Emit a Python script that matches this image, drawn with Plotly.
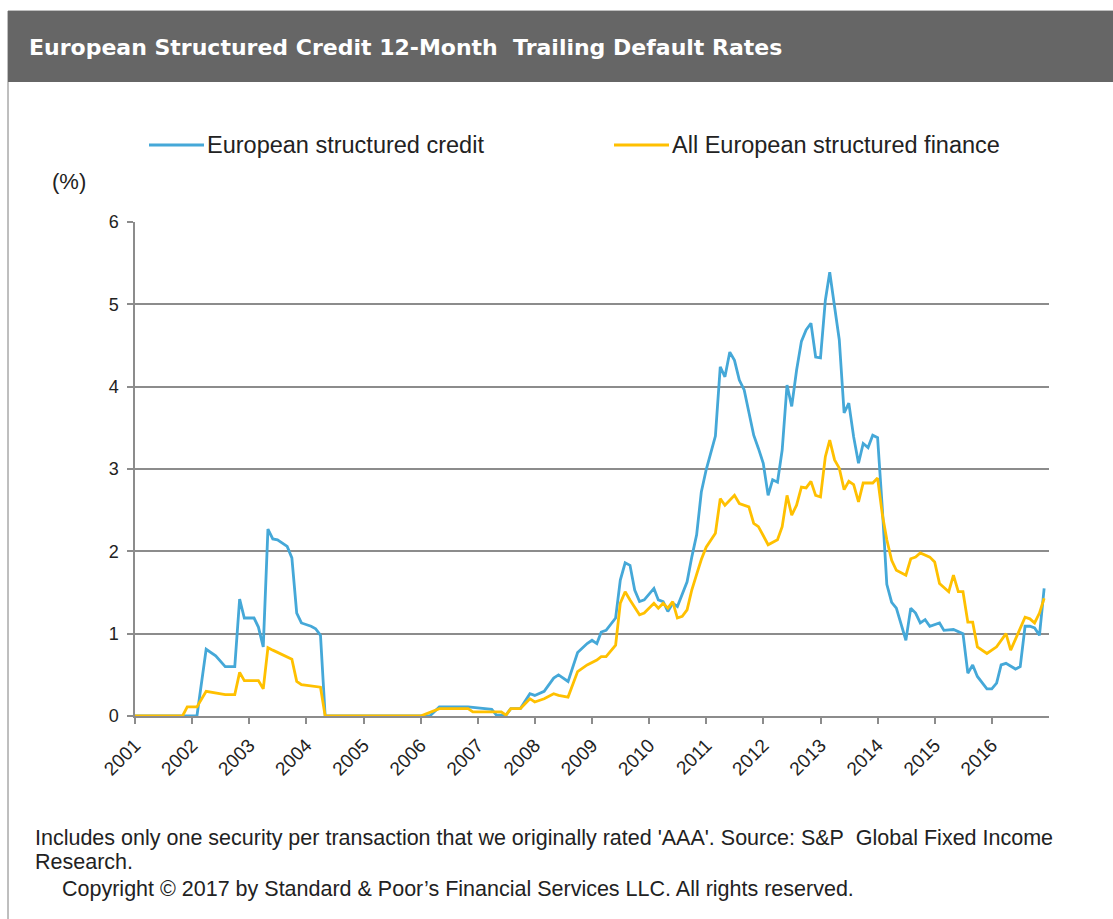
import plotly.graph_objects as go

# ---------------- data ----------------
credit_dates = ["2001-01","2002-02","2002-04","2002-06","2002-08","2002-10","2002-11","2002-12","2003-02","2003-03",
    "2003-04","2003-05","2003-06","2003-07","2003-09","2003-10","2003-11","2003-12","2004-02","2004-03","2004-04","2004-05",
    "2006-03","2006-05","2006-11","2007-04","2007-05","2007-07","2007-08","2007-10","2007-12","2008-01","2008-03","2008-05",
    "2008-06","2008-08","2008-10","2008-12","2009-01","2009-02","2009-03","2009-04","2009-06","2009-07","2009-08","2009-09",
    "2009-10","2009-11","2009-12","2010-02","2010-03","2010-04","2010-05","2010-06","2010-07","2010-08","2010-09","2010-10",
    "2010-11","2010-12","2011-01","2011-03","2011-04","2011-05","2011-06","2011-07","2011-08","2011-09","2011-11","2011-12",
    "2012-01","2012-02","2012-03","2012-04","2012-05","2012-06","2012-07","2012-08","2012-09","2012-10","2012-11","2012-12",
    "2013-01","2013-02","2013-03","2013-04","2013-05","2013-06","2013-07","2013-08","2013-09","2013-10","2013-11","2013-12",
    "2014-01","2014-02","2014-03","2014-04","2014-05","2014-07","2014-08","2014-09","2014-10","2014-11","2014-12","2015-02",
    "2015-03","2015-05","2015-07","2015-08","2015-09","2015-10","2015-12","2016-01","2016-02","2016-03","2016-04","2016-06",
    "2016-07","2016-08","2016-09","2016-10","2016-11","2016-12"]
credit_values = [0,0,0.81,0.73,0.6,0.6,1.42,1.19,1.19,1.08,
    0.84,2.27,2.15,2.14,2.06,1.92,1.25,1.13,1.09,1.06,0.98,0,
    0,0.11,0.11,0.08,0.01,0.01,0.09,0.09,0.27,0.25,0.3,0.46,
    0.5,0.42,0.77,0.88,0.92,0.88,1.02,1.04,1.19,1.65,1.86,1.83,
    1.53,1.39,1.41,1.55,1.41,1.39,1.27,1.37,1.33,1.49,1.63,1.93,
    2.2,2.72,2.99,3.4,4.24,4.12,4.42,4.32,4.08,3.96,3.41,3.25,
    3.07,2.68,2.87,2.84,3.23,4.02,3.76,4.2,4.55,4.69,4.77,4.36,
    4.35,5.05,5.39,4.97,4.57,3.68,3.8,3.39,3.07,3.31,3.26,3.41,
    3.38,2.5,1.6,1.38,1.31,0.92,1.31,1.25,1.13,1.17,1.09,1.13,
    1.04,1.05,1.0,0.52,0.62,0.48,0.33,0.33,0.4,0.62,0.64,0.57,
    0.6,1.09,1.09,1.07,0.98,1.55]

finance_dates = ["2001-01","2001-11","2001-12","2002-02","2002-04","2002-06","2002-08","2002-10","2002-11","2002-12",
    "2003-03","2003-04","2003-05","2003-06","2003-10","2003-11","2003-12","2004-04","2004-05",
    "2006-01","2006-03","2006-05","2006-11","2006-12","2007-06","2007-07","2007-08","2007-10","2007-12","2008-01",
    "2008-03","2008-05","2008-06","2008-08","2008-10","2008-12","2009-02","2009-03","2009-04","2009-06","2009-07",
    "2009-08","2009-09","2009-11","2009-12","2010-02","2010-03","2010-04","2010-05","2010-06","2010-07","2010-08",
    "2010-09","2010-10","2010-11","2010-12","2011-01","2011-03","2011-04","2011-05","2011-07","2011-08","2011-10",
    "2011-11","2011-12","2012-02","2012-04","2012-05","2012-06","2012-07","2012-08","2012-09","2012-10","2012-11",
    "2012-12","2013-01","2013-02","2013-03","2013-04","2013-05","2013-06","2013-07","2013-08","2013-09","2013-10",
    "2013-12","2014-01","2014-02","2014-03","2014-04","2014-05","2014-07","2014-08","2014-09","2014-10","2014-12",
    "2015-01","2015-02","2015-04","2015-05","2015-06","2015-07","2015-08","2015-09","2015-10","2015-12","2016-02",
    "2016-04","2016-05","2016-08","2016-09","2016-10","2016-11","2016-12"]
finance_values = [0,0,0.11,0.11,0.3,0.28,0.26,0.26,0.53,0.43,
    0.43,0.33,0.83,0.8,0.69,0.42,0.38,0.35,0,
    0,0.04,0.09,0.09,0.05,0.05,0.01,0.09,0.09,0.21,0.17,
    0.21,0.27,0.25,0.23,0.54,0.62,0.68,0.72,0.72,0.86,1.37,
    1.51,1.41,1.23,1.25,1.37,1.31,1.37,1.31,1.39,1.19,1.21,
    1.29,1.53,1.72,1.9,2.05,2.22,2.64,2.56,2.68,2.58,2.54,
    2.34,2.3,2.08,2.14,2.3,2.68,2.44,2.56,2.78,2.77,2.85,
    2.68,2.66,3.15,3.35,3.11,3.01,2.75,2.85,2.81,2.6,2.83,
    2.83,2.89,2.44,2.14,1.89,1.77,1.71,1.91,1.93,1.98,1.93,
    1.87,1.61,1.51,1.71,1.51,1.51,1.14,1.14,0.84,0.76,0.84,
    1.0,0.8,1.2,1.18,1.13,1.25,1.43]

year_labels = [str(y) for y in range(2001, 2017)]
series_names = ["European structured credit", "All European structured finance"]
title_text = "European Structured Credit 12-Month&nbsp; Trailing Default Rates"
note_line1 = "Includes only one security per transaction that we originally rated 'AAA'. Source: S&P&nbsp; Global Fixed Income"
note_line2 = "Research."
copyright_text = "Copyright \u00a9 2017 by Standard & Poor\u2019s Financial Services LLC. All rights reserved."

# ---------------- layout geometry (pixels) ----------------
W, H = 1113, 919
PL, PR, PT, PB = 135, 1049, 222, 716
BLUE = "#45a8d8"
GOLD = "#ffc000"
GRID = "#8c8c8c"
TXT = "#222222"
FONT = "Liberation Sans, Arial, sans-serif"
TITLE_FONT = "DejaVu Sans, Verdana, sans-serif"

def fx(px):
    return (px - PL) / (PR - PL)

def fy(py):
    return (PB - py) / (PB - PT)

fig = go.Figure()
fig.add_trace(go.Scatter(x=[d + "-01" for d in credit_dates], y=credit_values, mode="lines",
                         name=series_names[0], line=dict(color=BLUE, width=2.8), showlegend=False))
fig.add_trace(go.Scatter(x=[d + "-01" for d in finance_dates], y=finance_values, mode="lines",
                         name=series_names[1], line=dict(color=GOLD, width=2.8), showlegend=False))

shapes = [
    dict(type="rect", xref="paper", yref="paper", x0=fx(8), x1=fx(1125), y0=fy(930), y1=fy(11),
         line=dict(color="#7f7f7f", width=1), fillcolor="rgba(0,0,0,0)", layer="below"),
    dict(type="rect", xref="paper", yref="paper", x0=fx(8), x1=fx(1125), y0=fy(82), y1=fy(11),
         line=dict(width=0), fillcolor="#666666", layer="below"),
    dict(type="line", xref="paper", yref="paper", x0=fx(149), x1=fx(204), y0=fy(145), y1=fy(145),
         line=dict(color=BLUE, width=2.8)),
    dict(type="line", xref="paper", yref="paper", x0=fx(614), x1=fx(669), y0=fy(145), y1=fy(145),
         line=dict(color=GOLD, width=2.8)),
]

def ann(text, px, py, size, family=FONT, color=TXT):
    return dict(text=text, x=fx(px), y=fy(py), xref="paper", yref="paper",
                xanchor="left", yanchor="middle", showarrow=False,
                font=dict(family=family, size=size, color=color))

annotations = [
    ann("<b>" + title_text + "</b>", 27, 47, 22, TITLE_FONT, "white"),
    ann(series_names[0], 205, 145, 23.5),
    ann(series_names[1], 670, 145, 23.5),
    ann("(%)", 50, 182, 22),
    ann(note_line1, 33, 838, 21.5),
    ann(note_line2, 33, 862, 21.5),
    ann(copyright_text, 60, 889, 21.5),
]

fig.update_layout(
    width=W, height=H,
    margin=dict(l=PL, r=W - PR, t=PT, b=H - PB, pad=0),
    paper_bgcolor="white", plot_bgcolor="white",
    font=dict(family=FONT, color=TXT),
    shapes=shapes, annotations=annotations, showlegend=False,
    xaxis=dict(type="date", range=["2001-01-01", "2017-01-01"],
               tickvals=[y + "-01-01" for y in year_labels], ticktext=year_labels,
               tickangle=-45, tickfont=dict(family=FONT, size=19, color=TXT),
               showgrid=False, showline=True, linecolor=GRID, linewidth=1.5,
               ticks="outside", ticklen=6, tickcolor=GRID, tickwidth=1.5, zeroline=False,
               ticklabelstandoff=3),
    yaxis=dict(range=[0, 6], dtick=1, tick0=0, tickfont=dict(family=FONT, size=18, color=TXT),
               showgrid=True, gridcolor=GRID, gridwidth=1.5,
               showline=True, linecolor=GRID, linewidth=1.5,
               ticks="outside", ticklen=6, tickcolor=GRID, tickwidth=1.5, zeroline=False,
               ticklabelstandoff=5),
)

fig.write_html("out.html", config={"displayModeBar": False},
               post_script="document.body.style.margin='0';document.body.style.padding='0';")
